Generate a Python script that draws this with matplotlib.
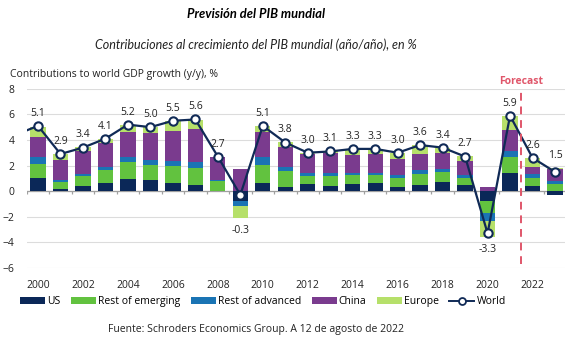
import numpy as np
import matplotlib.pyplot as plt
from matplotlib.patches import Patch
from matplotlib.lines import Line2D

# --- Data ---
years = list(range(2000, 2024))
us = [1.05, 0.2, 0.4, 0.65, 0.95, 0.85, 0.65, 0.47, 0.0, -0.75, 0.65, 0.35,
      0.53, 0.4, 0.53, 0.65, 0.35, 0.47, 0.75, 0.47, -0.8, 1.45, 0.4, -0.3]
rest_emerging = [1.1, 0.55, 0.8, 1.0, 1.35, 1.2, 1.3, 1.37, 0.8, 0.0, 1.4, 1.24,
                 0.65, 0.8, 0.7, 0.58, 0.7, 0.85, 0.76, 0.58, -0.9, 1.18, 0.6, 0.53]
rest_advanced = [0.5, 0.13, 0.15, 0.24, 0.4, 0.37, 0.4, 0.4, 0.05, -0.45, 0.58, 0.26,
                 0.2, 0.2, 0.2, 0.2, 0.2, 0.3, 0.2, 0.2, -0.6, 0.53, 0.32, 0.27]
china = [1.6, 1.55, 1.8, 1.9, 1.9, 2.1, 2.37, 2.63, 1.8, 1.76, 2.0, 1.58,
         1.5, 1.55, 1.4, 1.45, 1.26, 1.3, 1.24, 1.08, 0.3, 1.58, 0.6, 0.9]
europe = [0.8, 0.45, 0.3, 0.3, 0.6, 0.5, 0.75, 0.7, 0.05, -0.9, 0.5, 0.38,
          0.1, 0.15, 0.45, 0.4, 0.5, 0.65, 0.45, 0.38, -1.3, 1.16, 0.68, 0.1]
world = [5.1, 2.9, 3.4, 4.1, 5.2, 5.0, 5.5, 5.6, 2.7, -0.3, 5.1, 3.8,
         3.0, 3.1, 3.3, 3.3, 3.0, 3.6, 3.4, 2.7, -3.3, 5.9, 2.6, 1.5]
world_1999 = 4.4  # line enters from the left edge
forecast_start = 2021.5
year_ticks = list(range(2000, 2023, 2))

series = [
    ('US', us, '#0b2858'),
    ('Rest of emerging', rest_emerging, '#62c23f'),
    ('Rest of advanced', rest_advanced, '#1a74b4'),
    ('China', china, '#7a3b8e'),
    ('Europe', europe, '#b6e06a'),
]
WORLD_COLOR = '#102a56'
FORECAST_COLOR = '#e0566a'
TEXT_CENTER = 0.44

plt.rcParams['font.family'] = ['Open Sans', 'DejaVu Sans']

fig = plt.figure(figsize=(5.82, 3.51), dpi=100)
ax = fig.add_axes([0.046, 0.237, 0.925, 0.510])

x = np.array(years)
pos_bottom = np.zeros(len(years))
neg_bottom = np.zeros(len(years))
for name, vals, color in series:
    v = np.array(vals)
    bottom = np.where(v >= 0, pos_bottom, neg_bottom)
    ax.bar(x, v, bottom=bottom, width=0.68, color=color, zorder=2)
    pos_bottom += np.where(v >= 0, v, 0)
    neg_bottom += np.where(v < 0, v, 0)

# World line (with the off-chart 1999 point so the line enters from the edge)
ax.plot([years[0] - 1] + years, [world_1999] + world, color=WORLD_COLOR, lw=1.6,
        zorder=3)
ax.plot(years, world, linestyle='none', marker='o', ms=6, mfc='white',
        mec=WORLD_COLOR, mew=1.5, zorder=4)

for xi, w, top, bot in zip(years, world, pos_bottom, neg_bottom):
    if w >= 0:
        ax.annotate(f'{w:.1f}', (xi, max(w, top)), xytext=(0, 9),
                    textcoords='offset points', ha='center', va='center',
                    fontsize=7.5, color='#222222')
    else:
        ax.annotate(f'{w:.1f}', (xi, min(w, bot)), xytext=(0, -9),
                    textcoords='offset points', ha='center', va='center',
                    fontsize=7.5, color='#222222')

# Forecast marker
ax.axvline(forecast_start, color=FORECAST_COLOR, lw=1.4, ls=(0, (4, 3)),
           ymin=0.02, ymax=0.995, zorder=5)
ax.text(forecast_start, 8.55, 'Forecast', ha='center', va='center',
        fontsize=7.5, fontweight='bold', color=FORECAST_COLOR, clip_on=False)

# Axes styling
ax.set_xlim(1999.5, 2023.45)
ax.set_ylim(-6, 8)
ax.set_yticks(range(-6, 9, 2))
ax.set_xticks(year_ticks)
ax.tick_params(axis='both', length=0, labelsize=7.5, colors='#222222')
ax.tick_params(axis='x', pad=9)
ax.tick_params(axis='y', pad=9)
ax.grid(axis='y', color='#dcdcdc', lw=0.8, zorder=0)
ax.set_axisbelow(True)
for s in ax.spines.values():
    s.set_visible(False)
ax.axhline(0, color='#a0a0a0', lw=0.9, zorder=1)
ax.vlines(x - 0.5, -0.25, 0, color='#a0a0a0', lw=0.9, zorder=1)
ax.vlines(x[-1] + 0.5, -0.25, 0, color='#a0a0a0', lw=0.9, zorder=1)

fig.text(0.017, 0.787, 'Contributions to world GDP growth (y/y), %',
         fontsize=7.5, color='#222222', va='center')

# Titles
fig.text(TEXT_CENTER, 0.96, 'Previsión del PIB mundial', family=['Lato', 'DejaVu Sans'],
         fontsize=9.3, fontweight='bold', style='italic', ha='center', va='center')
fig.text(TEXT_CENTER, 0.872, 'Contribuciones al crecimiento del PIB mundial (año/año), en %',
         family=['Lato', 'DejaVu Sans'], fontsize=9, style='italic',
         ha='center', va='center', color='#222222')

# Legend
handles = [Patch(facecolor=c, edgecolor='none') for _, _, c in series]
handles.append(Line2D([], [], color=WORLD_COLOR, lw=1.4, marker='o', ms=5,
                      mfc='white', mec=WORLD_COLOR, mew=1.3))
labels = [n for n, _, _ in series] + ['World']
fig.legend(handles, labels, loc='center', bbox_to_anchor=(0.452, 0.14), ncol=6,
           frameon=False, fontsize=7.5, handlelength=2.4, handleheight=0.6,
           handletextpad=0.2, columnspacing=1.0)

fig.text(TEXT_CENTER, 0.06, 'Fuente: Schroders Economics Group. A 12 de agosto de 2022',
         fontsize=7.5, ha='center', va='center', color='#222222')

fig.savefig('out.png', dpi=100)
